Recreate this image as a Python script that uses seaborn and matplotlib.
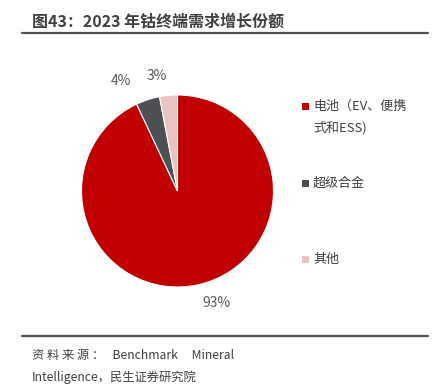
import matplotlib
matplotlib.use("Agg")
import matplotlib.pyplot as plt
from matplotlib.patches import Rectangle
import seaborn as sns

# 数据
labels = ["电池（EV、便携\n式和ESS)", "超级合金", "其他"]
shares = [93, 4, 3]
colors = ["#C00000", "#4D4F52", "#EBC3C3"]

sns.set_theme(style="white")
plt.rcParams["font.family"] = ["Noto Sans CJK SC", "DejaVu Sans"]

W, H = 433, 385
fig = plt.figure(figsize=(W / 100, H / 100), dpi=100)

# 饼图位置
cx, cy, r = 177.5, 191, 96
ax = fig.add_axes([(cx - r) / W, (H - cy - r) / H, 2 * r / W, 2 * r / H])
wedges, texts = ax.pie(
    shares,
    colors=colors,
    labels=[f"{v}%" for v in shares],
    labeldistance=1.2,
    startangle=90,
    counterclock=False,
    wedgeprops=dict(edgecolor="white", linewidth=0.8),
    textprops=dict(color="#595959", fontsize=10),
)
ax.set_xlim(-1, 1)
ax.set_ylim(-1, 1)
# 4% 标签左移一点
x4, y4 = texts[1].get_position()
texts[1].set_position((x4 - 0.11, y4))

# 图例（手动排布，色块与首行对齐）
leg_rows = [106, 183, 259]
for w, lab, yy in zip(wedges, labels, leg_rows):
    fig.add_artist(Rectangle((302 / W, 1 - (yy + 3.5) / H), 7 / W, 7 / H,
                             transform=fig.transFigure,
                             facecolor=w.get_facecolor(), edgecolor="none"))
    fig.text(313 / W, 1 - (yy - 6) / H, lab, fontsize=9.4, color="#404040",
             va="top", linespacing=1.75)

# 标题与分隔线
fig.text(32 / W, 1 - 21 / H, "图43：2023 年钴终端需求增长份额",
         fontsize=11.5, fontweight="bold", color="#404040", va="center")
fig.add_artist(plt.Line2D([22 / W, 428 / W], [1 - 33 / H] * 2,
                          color="#505050", linewidth=1.6))
fig.add_artist(plt.Line2D([22 / W, 428 / W], [1 - 336 / H] * 2,
                          color="#505050", linewidth=1.6))

# 资料来源
fig.text(32 / W, 1 - 355 / H, "资 料 来 源 ：   Benchmark     Mineral",
         fontsize=8.8, color="#404040", va="center")
fig.text(32 / W, 1 - 377 / H, "Intelligence，民生证券研究院",
         fontsize=8.8, color="#404040", va="center")

fig.savefig("out.png", dpi=100)
